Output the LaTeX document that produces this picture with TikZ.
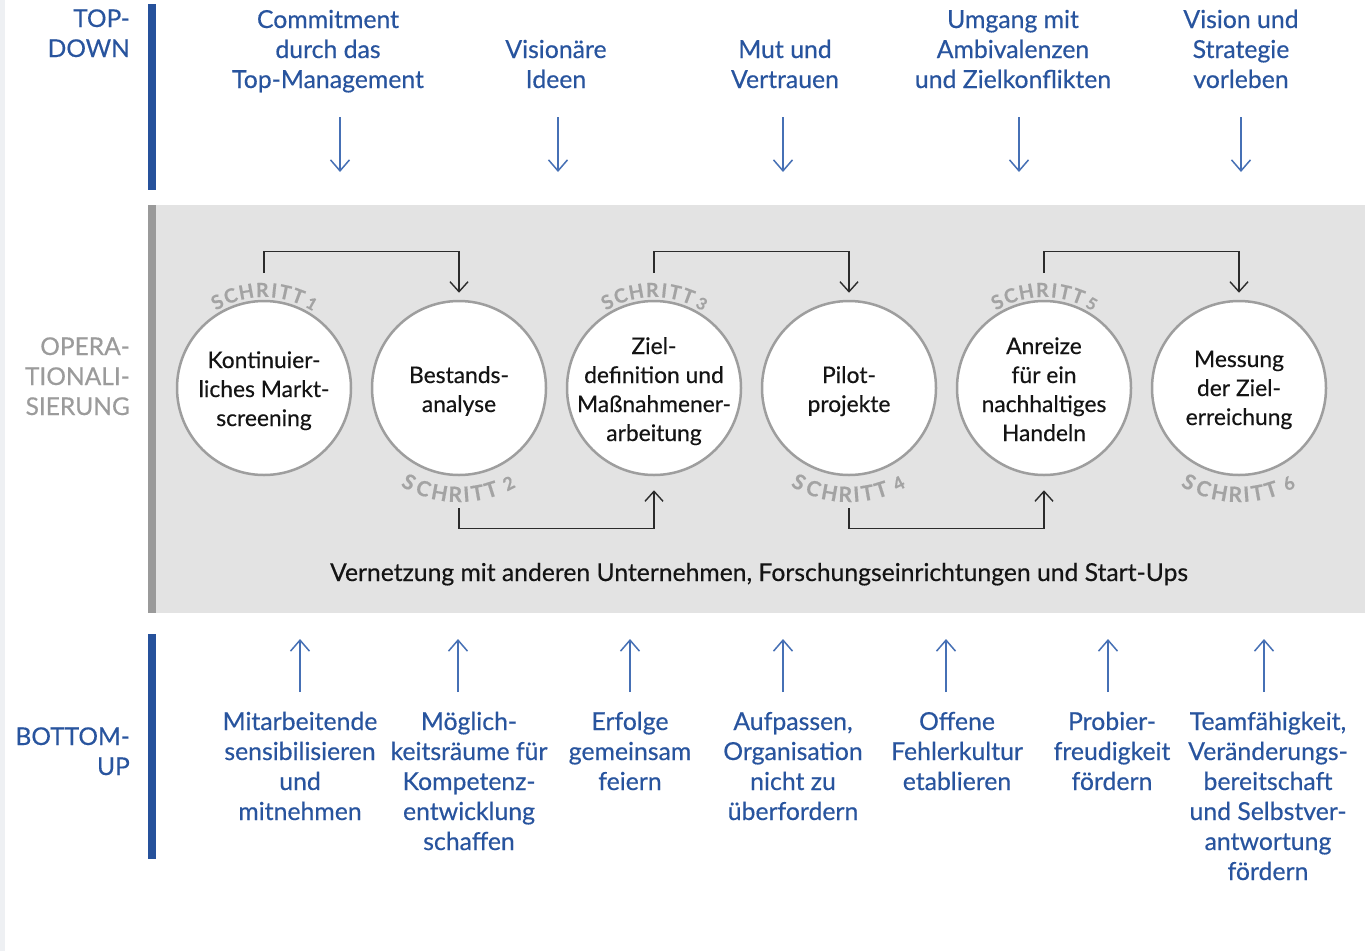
\documentclass[tikz,border=0pt]{standalone}
\usepackage{fontspec}
\setmainfont{Lato}[FakeBold=0.4]
\usetikzlibrary{arrows.meta,calc}
\definecolor{tdblue}{HTML}{28549E}
\definecolor{barblue}{HTML}{26519B}
\definecolor{arrblue}{HTML}{4670B5}
\definecolor{panelgrey}{HTML}{E3E3E3}
\definecolor{panelbar}{HTML}{9A9A9A}
\definecolor{lblgrey}{HTML}{9B9B9B}
\definecolor{schgrey}{HTML}{A3A3A3}
\definecolor{circgrey}{HTML}{9E9E9E}
\definecolor{txtblack}{HTML}{141414}
\definecolor{connc}{HTML}{2B2B2B}
\definecolor{edgestrip}{HTML}{EEF0F3}
\newcommand{\mlc}[1]{\begin{tabular}[t]{@{}c@{}}#1\end{tabular}}
\newcommand{\mlr}[1]{\begin{tabular}[t]{@{}r@{}}#1\end{tabular}}
\newcommand{\schtop}[3]{%
  \foreach \ch/\ang [count=\k] in {S/118.5,C/110,H/100.5,R/91,I/84,T/77.5,T/69.5}
    {\node[schtopl, rotate=\ang-90] (#3-\k) at ($(#1.center)+(-\ang:91)$) {\ch};}
  \node[schtopd, rotate=-29.5] (#3-d) at ($(#1.center)+(-60.5:91)$) {#2};
}
\newcommand{\schbot}[3]{%
  \foreach \ch/\ang [count=\k] in {S/118,C/109.5,H/100.5,R/92,I/86,T/80,T/72.5}
    {\node[schbotl, rotate=90-\ang] (#3-\k) at ($(#1.center)+(\ang:114)$) {\ch};}
  \node[schbotd, rotate=27.5] (#3-d) at ($(#1.center)+(62.5:114)$) {#2};
}
\begin{document}
\begin{tikzpicture}[x=1pt,y=-1pt,
  bluetxt/.style={anchor=base, inner sep=0pt, text=tdblue, font=\fontsize{24.8}{30}\selectfont},
  leftblue/.style={anchor=base east, inner sep=0pt, text=tdblue, font=\fontsize{24.5}{30}\selectfont},
  leftgrey/.style={anchor=base east, inner sep=0pt, text=lblgrey, font=\fontsize{24.5}{30}\selectfont},
  circ/.style={circle, draw=circgrey, line width=2.5pt, fill=white, minimum size=174pt, inner sep=0pt},
  ctext/.style={anchor=base, inner sep=0pt, text=txtblack, font=\fontsize{22.8}{29}\selectfont},
  conn/.style={draw=connc, line width=1.4pt, -{Straight Barb[length=10pt,width=18pt]}},
  barrow/.style={draw=arrblue, line width=1.5pt, -{Straight Barb[length=11pt,width=19pt]}},
  schtopl/.style={anchor=base, inner sep=0pt, text=schgrey, font=\bfseries\fontsize{19.5}{19.5}\selectfont},
  schtopd/.style={anchor=base, inner sep=0pt, text=schgrey, font=\bfseries\fontsize{16.5}{16.5}\selectfont},
  schbotl/.style={anchor=base, inner sep=0pt, text=schgrey, font=\bfseries\fontsize{21}{21}\selectfont},
  schbotd/.style={anchor=base, inner sep=0pt, text=schgrey, font=\bfseries\fontsize{18}{18}\selectfont}]
\useasboundingbox (0,0) rectangle (1370,951);
\fill[white] (0,0) rectangle (1370,951);
\fill[edgestrip] (0,0) rectangle (4.5,951);
% bars and panel
\fill[barblue] (148,4) rectangle (156,190);
\fill[panelgrey] (148,205) rectangle (1365,613);
\fill[panelbar] (148,205) rectangle (156,613);
\fill[barblue] (148,634) rectangle (156,859);
% left labels
\node[leftblue] (ltop) at (130,27) {\mlr{TOP-\\DOWN}};
\node[leftgrey] (lop) at (130,355) {\mlr{OPERA-\\TIONALI-\\SIERUNG}};
\node[leftblue] (lbot) at (130,745) {\mlr{BOTTOM-\\UP}};
% top texts
\node[bluetxt] (t1) at (328,28) {\mlc{Commitment\\durch das\\Top-Management}};
\node[bluetxt] (t2) at (556,58) {\mlc{Visionäre\\Ideen}};
\node[bluetxt] (t3) at (785,58) {\mlc{Mut und\\Vertrauen}};
\node[bluetxt] (t4) at (1013,28) {\mlc{Umgang mit\\Ambivalenzen\\und Zielkonflikten}};
\node[bluetxt] (t5) at (1241,28) {\mlc{Vision und\\Strategie\\vorleben}};
% top arrows
\foreach \x [count=\i] in {340,558,783,1019,1241}{
  \coordinate (ta\i) at (\x,117);
  \coordinate (tb\i) at (\x,172);
  \draw[barrow] (ta\i) -- (tb\i);
}
% circles
\node[circ] (c1) at (264,388) {};
\node[circ] (c2) at (459,388) {};
\node[circ] (c3) at (654,388) {};
\node[circ] (c4) at (849,388) {};
\node[circ] (c5) at (1044,388) {};
\node[circ] (c6) at (1239,388) {};
\node[ctext] (x1) at (264,368) {\mlc{Kontinuier-\\liches Markt-\\screening}};
\node[ctext] (x2) at (459,383) {\mlc{Bestands-\\analyse}};
\node[ctext] (x3) at (654,354) {\mlc{Ziel-\\definition und\\Maßnahmener-\\arbeitung}};
\node[ctext] (x4) at (849,383) {\mlc{Pilot-\\projekte}};
\node[ctext] (x5) at (1044,354) {\mlc{Anreize\\für ein\\nachhaltiges\\Handeln}};
\node[ctext] (x6) at (1239,367) {\mlc{Messung\\der Ziel-\\erreichung}};
% SCHRITT labels
\schtop{c1}{1}{s1}
\schbot{c2}{2}{s2}
\schtop{c3}{3}{s3}
\schbot{c4}{4}{s4}
\schtop{c5}{5}{s5}
\schbot{c6}{6}{s6}
% connectors
\draw[conn] ([yshift=27pt]c1.north) -- ++(0,-21) -| ([yshift=7pt]c2.north);
\draw[conn] ([yshift=27pt]c3.north) -- ++(0,-21) -| ([yshift=7pt]c4.north);
\draw[conn] ([yshift=27pt]c5.north) -- ++(0,-21) -| ([yshift=7pt]c6.north);
\draw[conn] ([yshift=-32pt]c2.south) -- ++(0,20) -| ([yshift=-14pt]c3.south);
\draw[conn] ([yshift=-32pt]c4.south) -- ++(0,20) -| ([yshift=-14pt]c5.south);
% network text
\node[anchor=base, inner sep=0pt, text=txtblack, font=\fontsize{24.7}{30}\selectfont] (net) at (759,581) {Vernetzung mit anderen Unternehmen, Forschungseinrichtungen und Start-Ups};
% bottom arrows
\foreach \x [count=\i] in {300,458,630,783,946,1108,1264}{
  \coordinate (ba\i) at (\x,692);
  \coordinate (bb\i) at (\x,639);
  \draw[barrow] (ba\i) -- (bb\i);
}
% bottom texts
\node[bluetxt] (b1) at (300,730) {\mlc{Mitarbeitende\\sensibilisieren\\und\\mitnehmen}};
\node[bluetxt] (b2) at (469,730) {\mlc{Möglich-\\keitsräume für\\Kompetenz-\\entwicklung\\schaffen}};
\node[bluetxt] (b3) at (630,730) {\mlc{Erfolge\\gemeinsam\\feiern}};
\node[bluetxt] (b4) at (793,730) {\mlc{Aufpassen,\\Organisation\\nicht zu\\überfordern}};
\node[bluetxt] (b5) at (957,730) {\mlc{Offene\\Fehlerkultur\\etablieren}};
\node[bluetxt] (b6) at (1112,730) {\mlc{Probier-\\freudigkeit\\fördern}};
\node[bluetxt] (b7) at (1268,730) {\mlc{Teamfähigkeit,\\Veränderungs-\\bereitschaft\\und Selbstver-\\antwortung\\fördern}};
\end{tikzpicture}
\end{document}
